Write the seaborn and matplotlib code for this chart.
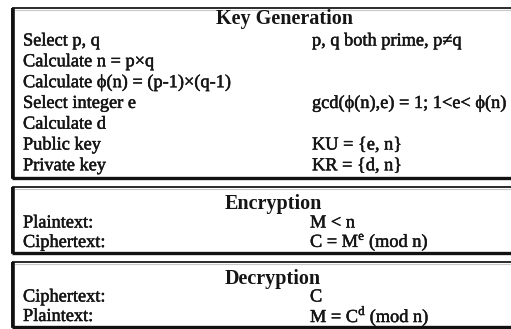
import matplotlib.pyplot as plt
import matplotlib.patches as mpatches
import matplotlib.patheffects as pe
import seaborn as sns

# ── table content ─────────────────────────────────────────
section_titles = ["Key Generation", "Encryption", "Decryption"]

keygen_left = ["Select p, q", "Calculate n = p×q", "Calculate ϕ(n) = (p-1)×(q-1)",
               "Select integer e", "Calculate d", "Public key", "Private key"]
keygen_right = ["p, q both prime, p≠q", "", "", "gcd(ϕ(n),e) = 1; 1<e< ϕ(n)",
                "", "KU = {e, n}", "KR = {d, n}"]

enc_left = ["Plaintext:", "Ciphertext:"]
enc_right = ["M < n", r"C = M$^{\mathrm{e}}$ (mod n)"]

dec_left = ["Ciphertext:", "Plaintext:"]
dec_right = ["C", r"M = C$^{\mathrm{d}}$ (mod n)"]

sections = [(keygen_left, keygen_right), (enc_left, enc_right), (dec_left, dec_right)]

# ── layout (pixel units) ──────────────────────────────────
box_top = [8, 187, 262]
box_bottom = [178, 253, 327]
title_y = [19, 204, 279]
first_row_y = [41, 223, 297]
row_step = [20.8, 19.5, 19.5]
title_x = [284, 273, 273]
right_x = [312, 310, 310]
left_x = 23

sns.set_theme(style="white")
plt.rcParams['font.family'] = ['Liberation Serif', 'DejaVu Serif']
plt.rcParams['mathtext.fontset'] = 'custom'
plt.rcParams['mathtext.rm'] = 'Liberation Serif'

fig = plt.figure(figsize=(5.11, 3.29), dpi=100)
ax = fig.add_axes([0, 0, 1, 1])
ax.set_xlim(0, 511)
ax.set_ylim(329, 0)
ax.axis('off')

ink = '#151515'
blur = [pe.withStroke(linewidth=0.35, foreground=ink)]

for i, (left, right) in enumerate(sections):
    top, bot = box_top[i], box_bottom[i]
    ax.add_patch(mpatches.Rectangle((12, top), 520, bot - top, fill=False,
                                    edgecolor='#1a1a1a', linewidth=1.3))
    # heavier left and bottom edges
    ax.plot([13, 13], [top, bot], color='#111111', lw=2.6, solid_capstyle='butt')
    ax.plot([12, 520], [bot, bot], color='#111111', lw=2.4, solid_capstyle='butt')
    ax.plot([15, 520], [top + 2.2, top + 2.2], color='#c8c8c8', lw=0.8)

    ax.text(title_x[i], title_y[i], section_titles[i], ha='center', va='center',
            fontsize=14.5, fontweight='bold', color=ink)
    for j, (l, r) in enumerate(zip(left, right)):
        y = first_row_y[i] + j * row_step[i]
        ax.text(left_x, y, l, ha='left', va='center', fontsize=13.2, color=ink,
                path_effects=blur)
        if r:
            ax.text(right_x[i], y, r, ha='left', va='center', fontsize=13.2, color=ink,
                    path_effects=blur)

fig.savefig('out.png', dpi=100)
